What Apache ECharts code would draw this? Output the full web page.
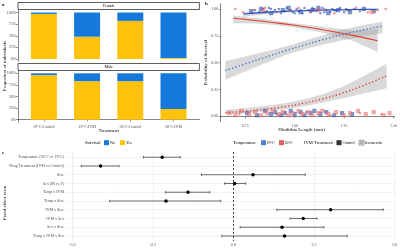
<!DOCTYPE html>
<html>
<head>
<meta charset="utf-8">
<script src="https://cdn.jsdelivr.net/npm/echarts@6/dist/echarts.min.js"></script>
<style>
    html, body { margin: 0; padding: 0; background: #fff; }
    #chart { width: 400px; height: 248px; }
</style>
</head>
<body>
<div id="chart"></div>
<script>
// ---- panel a: survival proportion by treatment and sex
var treatments = ['19°C:Control', '19°C:IVM', '30°C:Control', '30°C:IVM']
var femaleYes = [0.97, 0.48, 0.82, 0.02]
var femaleNo = [0.03, 0.52, 0.18, 0.98]
var maleYes = [0.96, 0.83, 0.83, 0.23]
var maleNo = [0.04, 0.17, 0.17, 0.77]
var pctTicks = [0, 0.25, 0.5, 0.75, 1]

// ---- panel b: fitted survival vs hindtibia length
var lenTicks = [0.75, 1.00, 1.25, 1.50]
var probTicks = [0, 0.25, 0.5, 0.75, 1]

var ctrl19X = [0.74, 0.85, 0.95, 1.05, 1.15, 1.25, 1.35, 1.42]
var ctrl19Fit = [0.953, 0.968, 0.978, 0.985, 0.990, 0.993, 0.996, 0.997]
var ctrl19Lo = [0.925, 0.950, 0.966, 0.976, 0.982, 0.985, 0.987, 0.988]
var ctrl19Hi = [0.970, 0.979, 0.986, 0.991, 0.995, 0.997, 0.998, 0.999]

var ctrl30X = [0.69, 0.80, 0.90, 1.00, 1.10, 1.20, 1.30, 1.42]
var ctrl30Fit = [0.913, 0.893, 0.872, 0.848, 0.820, 0.788, 0.752, 0.704]
var ctrl30Lo = [0.870, 0.865, 0.850, 0.828, 0.795, 0.752, 0.700, 0.600]
var ctrl30Hi = [0.940, 0.915, 0.892, 0.868, 0.843, 0.820, 0.800, 0.810]

var ivm19X = [0.65, 0.75, 0.85, 0.95, 1.05, 1.15, 1.25, 1.35, 1.445]
var ivm19Fit = [0.427, 0.488, 0.549, 0.609, 0.665, 0.718, 0.765, 0.806, 0.840]
var ivm19Lo = [0.340, 0.418, 0.495, 0.568, 0.625, 0.672, 0.712, 0.745, 0.774]
var ivm19Hi = [0.515, 0.558, 0.602, 0.648, 0.703, 0.760, 0.812, 0.850, 0.880]

var ivm30X = [0.65, 0.75, 0.85, 0.95, 1.05, 1.15, 1.25, 1.35, 1.465]
var ivm30Fit = [0.034, 0.047, 0.066, 0.090, 0.124, 0.167, 0.221, 0.288, 0.376]
var ivm30Lo = [0.018, 0.028, 0.044, 0.066, 0.095, 0.130, 0.170, 0.212, 0.262]
var ivm30Hi = [0.062, 0.076, 0.096, 0.122, 0.158, 0.210, 0.280, 0.375, 0.490]

// observed individuals (1 = survived, 0 = died, jittered)
var obsCtrl19 = [[0.80,0.99],[0.82,0.97],[0.84,1.00],[0.86,0.98],[0.87,1.01],[0.89,0.97],[0.90,0.99],[0.92,1.00],
    [0.93,0.96],[0.95,0.98],[0.96,1.01],[0.98,0.99],[0.99,0.97],[1.01,1.00],[1.02,0.98],[1.04,0.96],[1.05,1.01],
    [1.07,0.99],[1.08,0.97],[1.10,1.00],[1.11,0.98],[1.13,0.96],[1.14,1.01],[1.16,0.99],[1.18,0.97],[1.19,1.00],
    [1.21,0.98],[1.23,1.01],[1.25,0.97],[1.27,0.99],[1.30,1.00],[1.33,0.98],[0.91,0.02],[1.06,0.04],
    [0.85,0.97],[0.88,1.00],[0.94,0.98],[1.00,0.96],[1.03,0.99],[1.09,1.01],[1.15,0.97],[1.20,0.99],[1.26,1.00]]
var obsIvm19 = [[0.78,0.98],[0.83,1.00],[0.88,0.96],[0.94,0.99],[0.97,1.01],[1.03,0.97],[1.09,0.99],[1.12,1.01],
    [1.17,0.96],[1.22,0.99],[1.28,0.97],[1.35,1.00],[1.40,0.98],[0.76,0.03],[0.81,0.01],[0.85,0.05],[0.88,0.02],
    [0.90,0.04],[0.93,0.01],[0.95,0.03],[0.98,0.05],[1.00,0.02],[1.03,0.04],[1.05,0.01],[1.08,0.03],[1.10,0.05],
    [1.13,0.02],[1.16,0.04],[1.20,0.01],[1.24,0.03],[1.29,0.02]]
var obsCtrl30 = [[0.70,1.00],[0.74,0.97],[0.79,0.99],[0.85,1.01],[0.91,0.97],[0.97,0.99],[1.02,1.01],[1.08,0.97],
    [1.15,1.00],[1.20,0.96],[1.26,0.99],[1.31,1.01],[1.37,0.97],[1.42,0.99],[1.46,1.00],[0.72,0.02],[0.95,0.04],
    [1.18,0.01],[1.33,0.03],[1.44,0.02]]
var obsIvm30 = [[0.84,0.98],[1.12,0.99],[1.39,0.97],[0.67,0.03],[0.70,0.01],[0.73,0.05],[0.77,0.02],[0.80,0.04],
    [0.83,0.01],[0.86,0.03],[0.89,0.05],[0.92,0.02],[0.94,0.04],[0.97,0.01],[0.99,0.03],[1.02,0.05],[1.04,0.02],
    [1.07,0.04],[1.09,0.01],[1.12,0.03],[1.14,0.05],[1.17,0.02],[1.21,0.04],[1.25,0.01],[1.28,0.03],[1.32,0.05],
    [1.36,0.02],[1.40,0.04],[1.45,0.01],[1.48,0.03]]

// ---- panel c: fixed effect estimates with intervals
var terms = ['Temperature (30°C vs 19°C)', 'Drug Treatment (IVM vs Control)', 'Size', 'Sex (M vs F)',
    'Temp x IVM', 'Temp x Size', 'IVM x Size', 'IVM x Sex', 'Sex x Size', 'Temp x IVM x Sex']
var termEst = [-2.21, -4.12, 0.61, 0.04, -1.41, -2.09, 3.02, 2.17, 1.51, 1.59]
var termLo = [-2.79, -4.72, -0.99, -0.27, -2.11, -3.84, 1.35, 1.76, 0.21, -0.36]
var termHi = [-1.65, -3.55, 2.23, 0.38, -0.73, -0.39, 4.65, 2.59, 2.81, 3.53]
var effTicks = [-5, -2.5, 0, 2.5, 5]
var effMinor = [-3.75, -1.25, 1.25, 3.75]

var serif = 'Liberation Serif, DejaVu Serif, serif'
var BLUE = '#2352c0', RED = '#e63b2e'
var SURV_BLUE = '#1479db', SURV_YELLOW = '#ffc20a'

var myChart = echarts.init(document.getElementById('chart'))

function zip(xs, ys) {
    return xs.map(function (x, i) { return [x, ys[i]] })
}
function pct(v) { return Math.round(v * 100) + '%' }

// facet panels: value x axis spans 0.4..4.6 like ggplot's discrete expansion
function facetAxisX(idx, showLabels) {
    return {
        gridIndex: idx, type: 'value', min: 0.4, max: 4.6,
        axisLine: {show: showLabels, lineStyle: {color: '#333', width: 0.6}},
        axisTick: {show: showLabels, length: 2, customValues: [1, 2, 3, 4], lineStyle: {color: '#333', width: 0.5}},
        axisLabel: {show: showLabels, customValues: [1, 2, 3, 4],
            formatter: function (v) { return treatments[Math.round(v) - 1] },
            fontSize: 4, color: '#4d4d4d', margin: 2.5, fontFamily: serif},
        splitLine: {show: false}
    }
}
function facetAxisY(idx) {
    return {
        gridIndex: idx, type: 'value', min: -0.05, max: 1.05,
        axisLine: {show: true, lineStyle: {color: '#333', width: 0.6}},
        axisTick: {show: true, length: 2, customValues: pctTicks, lineStyle: {color: '#333', width: 0.5}},
        axisLabel: {customValues: pctTicks, formatter: pct, fontSize: 4, color: '#4d4d4d', margin: 2, fontFamily: serif},
        splitLine: {show: false}
    }
}
// hidden category axes that carry the stacked bars
function barAxisX(idx) {
    return {gridIndex: idx, type: 'category', data: treatments, show: false}
}
function barAxisY(idx) {
    return {gridIndex: idx, type: 'value', min: -0.05, max: 1.05, show: false, splitLine: {show: false}}
}

function surviveBars(xIdx, yIdx, yes, no, stack) {
    return [{
        name: 'Yes', type: 'bar', xAxisIndex: xIdx, yAxisIndex: yIdx, stack: stack, barWidth: 26,
        itemStyle: {color: SURV_YELLOW}, data: yes, silent: true
    }, {
        name: 'No', type: 'bar', xAxisIndex: xIdx, yAxisIndex: yIdx, stack: stack, barWidth: 26,
        itemStyle: {color: SURV_BLUE}, data: no, silent: true
    }]
}

function ribbon(xs, lo, hi) {
    return {
        type: 'custom', xAxisIndex: 2, yAxisIndex: 2, silent: true, z: 1,
        data: [[xs[0], lo[0]]],
        renderItem: function (params, api) {
            var pts = []
            for (var i = 0; i < xs.length; i++) pts.push(api.coord([xs[i], hi[i]]))
            for (var j = xs.length - 1; j >= 0; j--) pts.push(api.coord([xs[j], lo[j]]))
            return {type: 'polygon', shape: {points: pts}, style: {fill: 'rgba(150,150,150,0.36)'}}
        }
    }
}

function fitLine(xs, ys, color, dotted) {
    return {
        type: 'line', xAxisIndex: 2, yAxisIndex: 2, data: zip(xs, ys), smooth: true, showSymbol: false,
        silent: true, z: 4,
        lineStyle: dotted ? {color: color, width: 1.4, type: [1.3, 2.2]} : {color: color, width: 1.1}
    }
}

function obs(data, color, hollow) {
    return {
        type: 'scatter', xAxisIndex: 2, yAxisIndex: 2, data: data, silent: true, z: 3,
        symbol: hollow ? 'emptyRect' : 'rect', symbolSize: 2.2,
        itemStyle: hollow ? {color: color, borderColor: color, borderWidth: 0.5, opacity: 0.6} : {color: color, opacity: 0.6}
    }
}

function txt(x, y, s, size, opts) {
    opts = opts || {}
    return {
        type: 'text', x: x, y: y, rotation: opts.rot || 0, silent: true,
        style: {text: s, fontSize: size, fontFamily: serif, fill: opts.color || '#000',
            align: opts.align || 'left', verticalAlign: 'middle', fontWeight: opts.bold ? 'bold' : 'normal'}
    }
}
function key(x, y, fill, stroke) {
    return {type: 'rect', shape: {x: x, y: y - 2.5, width: 5, height: 5}, silent: true,
        style: {fill: fill, stroke: stroke || null, lineWidth: 0.5}}
}

let option = {
    animation: false,
    grid: [
        {left: 18, top: 10.2, width: 181.4, height: 51.1},
        {left: 18, top: 71, width: 181.4, height: 51},
        {left: 220.7, top: 3.6, width: 177.6, height: 118.1},
        {left: 66, top: 152, width: 332, height: 89.2},
        // bar grids: 4 bands of 43.19px centred on the facet positions 1..4
        {left: 22.3, top: 10.2, width: 172.8, height: 51.1},
        {left: 22.3, top: 71, width: 172.8, height: 51}
    ],
    xAxis: [
        facetAxisX(0, false),
        facetAxisX(1, true),
        {gridIndex: 2, type: 'value', min: 0.626, max: 1.505,
            axisLine: {show: true, lineStyle: {color: '#333', width: 0.6}},
            axisTick: {show: true, length: 2, customValues: lenTicks, lineStyle: {color: '#333', width: 0.5}},
            axisLabel: {customValues: lenTicks, formatter: function (v) { return v.toFixed(2) },
                fontSize: 4, color: '#4d4d4d', margin: 2.5, fontFamily: serif},
            splitLine: {show: false}},
        {gridIndex: 3, type: 'value', min: -5.194, max: 5.052,
            axisLine: {show: false},
            axisTick: {show: false, customValues: effTicks},
            axisLabel: {customValues: effTicks, formatter: function (v) { return v.toFixed(1) },
                fontSize: 4, color: '#4d4d4d', margin: 2, fontFamily: serif},
            splitLine: {show: true, lineStyle: {color: '#e6e6e6', width: 0.6}}},
        {gridIndex: 3, type: 'value', min: -5.194, max: 5.052,
            axisLine: {show: false}, axisTick: {show: false, customValues: effMinor}, axisLabel: {show: false},
            splitLine: {show: true, lineStyle: {color: '#f3f3f3', width: 0.4}}},
        barAxisX(4),
        barAxisX(5)
    ],
    yAxis: [
        facetAxisY(0),
        facetAxisY(1),
        {gridIndex: 2, type: 'value', min: -0.05, max: 1.05,
            axisLine: {show: true, lineStyle: {color: '#333', width: 0.6}},
            axisTick: {show: true, length: 2, customValues: probTicks, lineStyle: {color: '#333', width: 0.5}},
            axisLabel: {customValues: probTicks, formatter: function (v) { return v.toFixed(2) },
                fontSize: 4, color: '#4d4d4d', margin: 2.5, fontFamily: serif},
            splitLine: {show: false}},
        {gridIndex: 3, type: 'value', min: 0.4, max: 10.6, inverse: true,
            axisLine: {show: false},
            axisTick: {show: false, customValues: [1, 2, 3, 4, 5, 6, 7, 8, 9, 10]},
            axisLabel: {customValues: [1, 2, 3, 4, 5, 6, 7, 8, 9, 10],
                formatter: function (v) { return terms[Math.round(v) - 1] },
                fontSize: 4, color: '#4d4d4d', margin: 2, fontFamily: serif},
            splitLine: {show: true, lineStyle: {color: '#ebebeb', width: 0.6}}},
        barAxisY(4),
        barAxisY(5)
    ],
    series: [].concat(
        surviveBars(5, 4, femaleYes, femaleNo, 'female'),
        surviveBars(6, 5, maleYes, maleNo, 'male'),
        [
            ribbon(ctrl19X, ctrl19Lo, ctrl19Hi),
            ribbon(ctrl30X, ctrl30Lo, ctrl30Hi),
            ribbon(ivm19X, ivm19Lo, ivm19Hi),
            ribbon(ivm30X, ivm30Lo, ivm30Hi),
            obs(obsCtrl19, '#2747a8', false),
            obs(obsIvm19, '#2747a8', true),
            obs(obsCtrl30, '#e24a4a', false),
            obs(obsIvm30, '#e86a6a', true),
            fitLine(ctrl19X, ctrl19Fit, BLUE, false),
            fitLine(ctrl30X, ctrl30Fit, RED, false),
            fitLine(ivm19X, ivm19Fit, '#3f6fd0', true),
            fitLine(ivm30X, ivm30Fit, RED, true),
            {
                type: 'custom', xAxisIndex: 3, yAxisIndex: 3, silent: true, z: 5,
                data: terms.map(function (t, i) { return [termLo[i], termHi[i], termEst[i], i + 1] }),
                encode: {x: [0, 1, 2], y: 3},
                renderItem: function (params, api) {
                    var lo = api.coord([api.value(0), api.value(3)])
                    var hi = api.coord([api.value(1), api.value(3)])
                    var est = api.coord([api.value(2), api.value(3)])
                    var ls = {stroke: '#5c5c5c', lineWidth: 0.9}
                    return {type: 'group', children: [
                        {type: 'line', shape: {x1: lo[0], y1: lo[1], x2: hi[0], y2: hi[1]}, style: ls},
                        {type: 'line', shape: {x1: lo[0], y1: lo[1] - 1.3, x2: lo[0], y2: lo[1] + 1.3}, style: ls},
                        {type: 'line', shape: {x1: hi[0], y1: hi[1] - 1.3, x2: hi[0], y2: hi[1] + 1.3}, style: ls},
                        {type: 'circle', shape: {cx: est[0], cy: est[1], r: 1.7}, style: {fill: '#000'}}
                    ]}
                },
                markLine: {
                    silent: true, symbol: 'none', label: {show: false},
                    lineStyle: {color: '#000', width: 0.7, type: [2, 2]},
                    data: [{xAxis: 0}]
                }
            }
        ]
    ),
    graphic: [
        // panel tags
        txt(2, 5, 'a', 5, {bold: true}),
        txt(205, 4, 'b', 5, {bold: true}),
        txt(2, 153, 'c', 5, {bold: true}),
        // facet strips
        {type: 'rect', shape: {x: 18, y: 2.5, width: 181.4, height: 7}, silent: true,
            style: {fill: '#fff', stroke: '#333', lineWidth: 0.8}},
        txt(108.7, 6, 'Female', 4.2, {align: 'center'}),
        {type: 'rect', shape: {x: 18, y: 63.5, width: 181.4, height: 7}, silent: true,
            style: {fill: '#fff', stroke: '#333', lineWidth: 0.8}},
        txt(108.7, 67, 'Male', 4.2, {align: 'center'}),
        // axis titles
        txt(5, 66, 'Proportion of individuals', 5, {align: 'center', rot: Math.PI / 2}),
        txt(108.7, 130.5, 'Treatment', 5, {align: 'center'}),
        txt(206, 62.5, 'Probability of Survival', 5, {align: 'center', rot: Math.PI / 2}),
        txt(301.5, 129.5, 'Hindtibia Length (mm)', 5, {align: 'center'}),
        txt(5, 203, 'Fixed effect term', 5, {align: 'center', rot: Math.PI / 2}),
        // survival legend
        txt(85, 142.7, 'Survival', 4.6),
        key(104, 142.7, SURV_BLUE),
        txt(110, 142.7, 'No', 4),
        key(120, 142.7, SURV_YELLOW),
        txt(126, 142.7, 'Yes', 4),
        // temperature / treatment legend
        txt(233, 142.7, 'Temperature', 4.6),
        key(261, 142.7, '#4f82d6'),
        txt(266.5, 142.7, '19°C', 4),
        key(279, 142.7, '#e35d5d'),
        txt(284.5, 142.7, '30°C', 4),
        txt(304, 142.7, 'IVM Treatment', 4.6),
        key(336.5, 142.7, '#333'),
        txt(342.5, 142.7, 'Control', 4),
        key(359, 142.7, '#ececec', '#666'),
        {type: 'rect', shape: {x: 360.3, y: 141.4, width: 2.4, height: 2.4}, silent: true,
            style: {fill: 'none', stroke: '#555', lineWidth: 0.5}},
        txt(364.5, 142.7, 'Ivermectin', 4)
    ]
}
myChart.setOption(option)
</script>
</body>
</html>
